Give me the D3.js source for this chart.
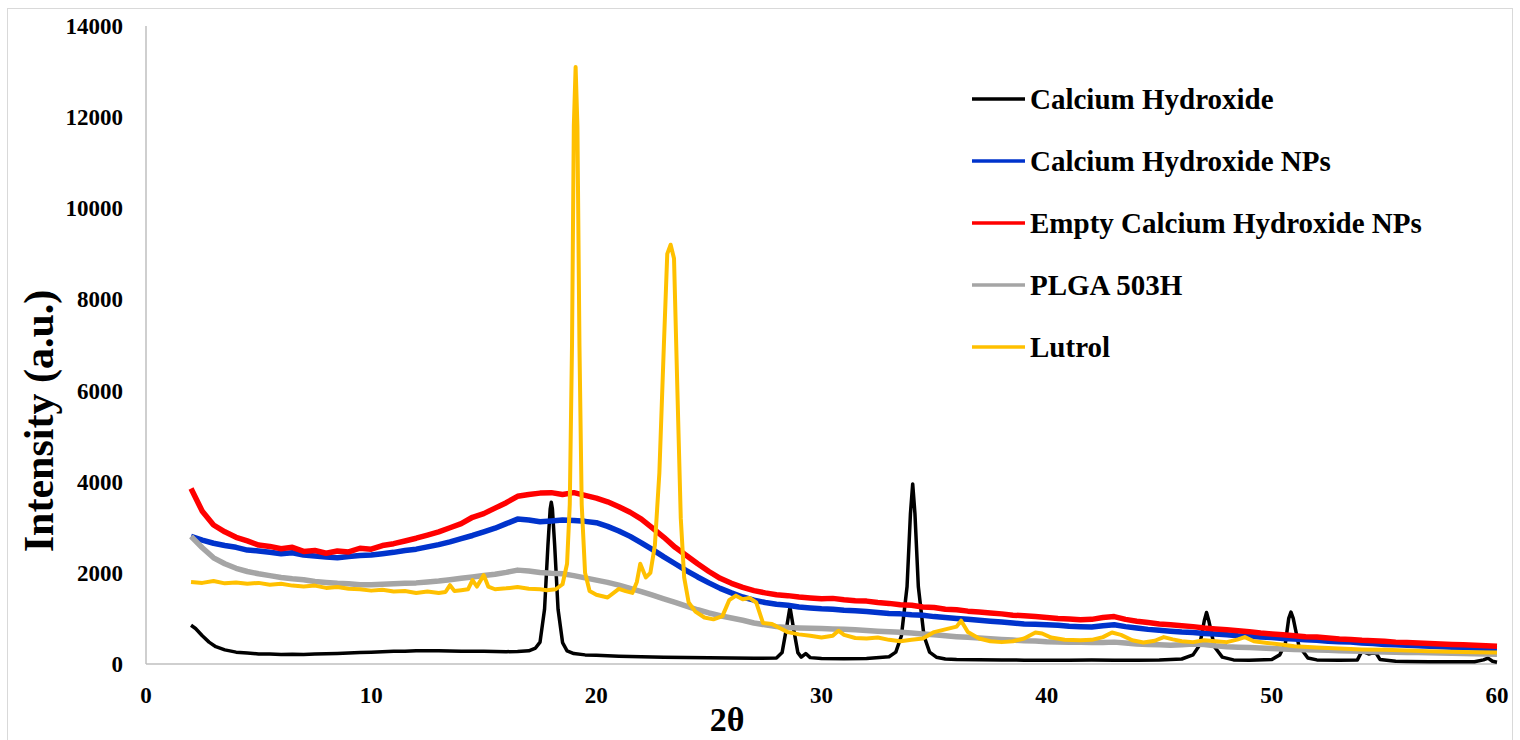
<!DOCTYPE html>
<html>
<head>
<meta charset="utf-8">
<script src="https://cdn.jsdelivr.net/npm/d3@7"></script>
<style>
  body { margin: 0; background: #fff; }
  svg { display: block; font-family: "Liberation Serif", "Times New Roman", serif; font-weight: bold; }
</style>
</head>
<body>
<svg id="chart"></svg>
<script>
const width = 1520;
const height = 740;

// 2-theta grid used by the broad (amorphous) patterns
const angles = [2, 2.5, 3, 3.5, 4, 4.5, 5, 5.5, 6, 6.5, 7, 7.5, 8, 8.5, 9, 9.5, 10, 10.5, 11, 11.5,
  12, 12.5, 13, 13.5, 14, 14.5, 15, 15.5, 16, 16.5, 17, 17.5, 18, 18.5, 19, 19.5, 20, 20.5, 21, 21.5,
  22, 22.5, 23, 23.5, 24, 24.5, 25, 25.5, 26, 26.5, 27, 27.5, 28, 28.5, 29, 29.5, 30, 30.5, 31, 31.5,
  32, 32.5, 33, 33.5, 34, 34.5, 35, 35.5, 36, 36.5, 37, 37.5, 38, 38.5, 39, 39.5, 40, 40.5, 41, 41.5,
  42, 42.5, 43, 43.5, 44, 44.5, 45, 45.5, 46, 46.5, 47, 47.5, 48, 48.5, 49, 49.5, 50, 50.5, 51, 51.5,
  52, 52.5, 53, 53.5, 54, 54.5, 55, 55.5, 56, 56.5, 57, 57.5, 58, 58.5, 59, 59.5, 60];

const nps = [2800, 2720, 2650, 2600, 2560, 2500, 2480, 2450, 2420, 2440, 2390, 2370, 2350, 2330, 2360, 2380, 2390, 2420, 2450, 2490,
  2520, 2570, 2620, 2680, 2750, 2820, 2900, 2980, 3080, 3180, 3160, 3120, 3140, 3160, 3150, 3130, 3100, 3020, 2920, 2800,
  2660, 2510, 2350, 2200, 2050, 1910, 1780, 1660, 1560, 1470, 1400, 1350, 1310, 1290, 1250, 1230, 1210, 1200, 1180, 1170,
  1150, 1130, 1110, 1100, 1080, 1070, 1040, 1020, 1000, 980, 960, 940, 920, 900, 880, 870, 860, 850, 830, 820,
  810, 840, 860, 820, 790, 760, 740, 720, 700, 690, 670, 660, 640, 620, 610, 590, 580, 560, 550, 530,
  520, 500, 490, 480, 460, 450, 430, 420, 410, 400, 390, 380, 370, 360, 350, 345, 340];

const emptyNps = [3850, 3350, 3050, 2900, 2780, 2700, 2610, 2580, 2530, 2560, 2470, 2490, 2430, 2480, 2460, 2540, 2520, 2600, 2640, 2700,
  2760, 2830, 2900, 2990, 3080, 3220, 3300, 3420, 3540, 3680, 3720, 3750, 3760, 3720, 3760, 3700, 3640, 3560, 3450, 3330,
  3180, 2980, 2780, 2560, 2380, 2200, 2030, 1880, 1770, 1680, 1610, 1560, 1520, 1500, 1470, 1450, 1430, 1440, 1410, 1390,
  1380, 1350, 1330, 1300, 1290, 1250, 1240, 1200, 1190, 1160, 1140, 1120, 1100, 1070, 1060, 1040, 1020, 1000, 990, 970,
  980, 1020, 1040, 980, 940, 910, 880, 860, 840, 820, 790, 770, 750, 730, 710, 680, 660, 640, 620, 600,
  590, 570, 550, 540, 520, 510, 500, 480, 470, 460, 450, 440, 430, 420, 410, 400, 390];

const plga = [2800, 2550, 2330, 2200, 2100, 2030, 1980, 1940, 1900, 1870, 1850, 1810, 1790, 1770, 1760, 1740, 1740, 1750, 1760, 1770,
  1780, 1800, 1820, 1850, 1880, 1910, 1940, 1970, 2010, 2060, 2040, 2010, 1990, 1980, 1940, 1890, 1840, 1790, 1730, 1660,
  1590, 1510, 1430, 1350, 1270, 1190, 1120, 1060, 1010, 960, 900, 860, 820, 800, 790, 785, 780, 770, 760, 750,
  735, 720, 710, 695, 680, 660, 640, 620, 600, 585, 570, 555, 540, 525, 510, 505, 490, 485, 480, 475,
  470, 470, 480, 460, 440, 430, 420, 410, 420, 440, 430, 400, 380, 370, 360, 350, 340, 330, 320, 310,
  305, 300, 290, 285, 280, 270, 265, 260, 255, 250, 245, 240, 235, 230, 225, 220, 215];

// crystalline patterns, sampled more densely around the peaks: [2theta, intensity]
const caOH2 = [[2, 850], [2.2, 780], [2.5, 620], [2.8, 480], [3.1, 380], [3.5, 310], [4, 260], [4.5, 240], [5, 220], [5.5, 220],
  [6, 210], [6.5, 215], [7, 210], [7.5, 220], [8, 225], [8.5, 230], [9, 240], [9.5, 250], [10, 260], [10.5, 270],
  [11, 280], [11.5, 280], [12, 290], [12.5, 290], [13, 290], [13.5, 285], [14, 280], [14.5, 280], [15, 280], [15.5, 275],
  [16, 270], [16.5, 275], [17, 290], [17.3, 350], [17.5, 480], [17.7, 1200], [17.85, 2600], [17.95, 3400], [18.0, 3550],
  [18.05, 3400], [18.15, 2600], [18.3, 1200], [18.5, 470], [18.7, 290], [19, 230], [19.5, 200], [20, 190], [21, 170],
  [22, 160], [23, 150], [24, 140], [25, 135], [26, 130], [27, 125], [28, 130], [28.25, 250], [28.45, 800], [28.6, 1250],
  [28.75, 800], [28.95, 250], [29.1, 150], [29.3, 230], [29.5, 140], [30, 120], [31, 115], [32, 120], [33, 160], [33.3, 260],
  [33.55, 620], [33.8, 1700], [33.95, 3300], [34.05, 3950], [34.15, 3300], [34.3, 1700], [34.55, 620], [34.8, 260], [35.1, 150],
  [35.5, 110], [36, 100], [37, 95], [38, 90], [39, 85], [40, 80], [41, 85], [42, 90], [43, 85], [44, 85], [45, 90], [46, 110],
  [46.5, 200], [46.8, 420], [47.0, 950], [47.1, 1130], [47.2, 950], [47.45, 380], [47.8, 150], [48.3, 90], [49, 85], [50, 100],
  [50.35, 200], [50.6, 450], [50.75, 1000], [50.85, 1140], [50.95, 1000], [51.2, 400], [51.6, 130], [52, 90], [53, 80],
  [53.8, 90], [54, 280], [54.3, 220], [54.6, 260], [54.8, 100], [55.5, 60], [56, 55], [57, 50], [58, 50], [59, 50],
  [59.4, 90], [59.6, 130], [59.8, 60], [60, 40]];

const lutrol = [[2, 1800], [2.5, 1780], [3, 1820], [3.5, 1770], [4, 1790], [4.5, 1760], [5, 1780], [5.5, 1740], [6, 1760],
  [6.5, 1720], [7, 1700], [7.5, 1720], [8, 1670], [8.5, 1690], [9, 1650], [9.5, 1640], [10, 1610], [10.5, 1630], [11, 1590],
  [11.5, 1600], [12, 1560], [12.5, 1590], [13, 1560], [13.3, 1580], [13.5, 1730], [13.7, 1600], [14, 1620], [14.3, 1640],
  [14.5, 1840], [14.7, 1700], [15, 1950], [15.2, 1700], [15.5, 1640], [16, 1660], [16.5, 1690], [17, 1650], [17.5, 1640],
  [17.8, 1620], [18.2, 1640], [18.5, 1750], [18.7, 2200], [18.82, 3500], [18.92, 7000], [19.0, 11800], [19.08, 13100],
  [19.16, 11800], [19.25, 7000], [19.35, 3500], [19.5, 2000], [19.7, 1600], [20, 1520], [20.5, 1460], [21, 1650], [21.3, 1600],
  [21.6, 1560], [21.8, 1800], [21.95, 2200], [22.2, 1900], [22.4, 2000], [22.6, 2600], [22.8, 4200], [23.0, 7000],
  [23.15, 9000], [23.3, 9200], [23.45, 8900], [23.6, 6000], [23.75, 3200], [23.9, 1900], [24.1, 1350], [24.4, 1150],
  [24.8, 1020], [25.2, 980], [25.6, 1050], [25.9, 1400], [26.2, 1500], [26.5, 1420], [26.8, 1450], [27.1, 1350], [27.4, 900],
  [27.8, 880], [28.1, 800], [28.5, 700], [29, 650], [29.5, 620], [30, 580], [30.5, 620], [30.75, 730], [31, 640], [31.5, 570],
  [32, 560], [32.5, 580], [33, 530], [33.5, 500], [34, 530], [34.5, 560], [35, 700], [35.5, 760], [36, 820], [36.2, 950],
  [36.5, 700], [37, 560], [37.5, 500], [38, 480], [38.5, 500], [39, 560], [39.5, 690], [39.8, 670], [40.2, 580], [40.8, 530],
  [41.5, 520], [42, 530], [42.5, 590], [42.9, 690], [43.3, 640], [43.8, 520], [44.3, 470], [44.8, 510], [45.2, 590],
  [45.6, 540], [46, 500], [46.5, 480], [47, 520], [47.5, 500], [48, 480], [48.5, 540], [48.8, 590], [49.2, 500], [49.8, 460],
  [50.5, 420], [51, 390], [52, 360], [53, 340], [54, 320], [55, 310], [56, 295], [57, 280], [58, 270], [59, 260], [60, 250]];

const seriesNames = ["Calcium Hydroxide", "Calcium Hydroxide NPs", "Empty Calcium Hydroxide NPs", "PLGA 503H", "Lutrol"];
const seriesColors = ["#000000", "#0033cc", "#ff0000", "#a5a5a5", "#ffc000"];
const xTicks = [0, 10, 20, 30, 40, 50, 60];
const yTicks = [0, 2000, 4000, 6000, 8000, 10000, 12000, 14000];

const series = [
  caOH2,
  angles.map((a, i) => [a, nps[i]]),
  angles.map((a, i) => [a, emptyNps[i]]),
  angles.map((a, i) => [a, plga[i]]),
  lutrol
];
const widths = [3.5, 5.5, 5.5, 5.5, 4];

const svg = d3.select("#chart")
  .attr("width", width)
  .attr("height", height);

// outer chart border
svg.append("rect")
  .attr("x", 7.5).attr("y", 8.5)
  .attr("width", 1505).attr("height", 740)
  .attr("fill", "none")
  .attr("stroke", "#d9d9d9");

const x = d3.scaleLinear().domain([0, 60]).range([146, 1497]);
const y = d3.scaleLinear().domain([0, 14000]).range([664, 26]);

// axes
svg.append("line")
  .attr("x1", x(0)).attr("x2", x(0))
  .attr("y1", y(14000)).attr("y2", y(0))
  .attr("stroke", "#bfbfbf").attr("stroke-width", 1.5);
svg.append("line")
  .attr("x1", x(0)).attr("x2", x(60))
  .attr("y1", y(0)).attr("y2", y(0))
  .attr("stroke", "#bfbfbf").attr("stroke-width", 1.5);

svg.append("g")
  .selectAll("text")
  .data(yTicks)
  .join("text")
  .attr("x", 123)
  .attr("y", d => y(d))
  .attr("dy", "0.35em")
  .attr("text-anchor", "end")
  .attr("font-size", 23)
  .text(d => d);

svg.append("g")
  .selectAll("text")
  .data(xTicks)
  .join("text")
  .attr("x", d => x(d))
  .attr("y", 703)
  .attr("text-anchor", "middle")
  .attr("font-size", 23)
  .text(d => d);

svg.append("text")
  .attr("transform", "translate(53,421) rotate(-90)")
  .attr("text-anchor", "middle")
  .attr("font-size", 42)
  .text("Intensity (a.u.)");

svg.append("text")
  .attr("x", 727)
  .attr("y", 731)
  .attr("text-anchor", "middle")
  .attr("font-size", 34)
  .text("2θ");

const line = d3.line()
  .x(d => x(d[0]))
  .y(d => y(d[1]));

svg.append("g")
  .selectAll("path")
  .data(series)
  .join("path")
  .attr("fill", "none")
  .attr("stroke", (d, i) => seriesColors[i])
  .attr("stroke-width", (d, i) => widths[i])
  .attr("stroke-linejoin", "round")
  .attr("d", line);

// legend
const legend = svg.append("g")
  .selectAll("g")
  .data(seriesNames)
  .join("g")
  .attr("transform", (d, i) => `translate(972,${99 + i * 62})`);

legend.append("line")
  .attr("x1", 0).attr("x2", 53)
  .attr("stroke", (d, i) => seriesColors[i])
  .attr("stroke-width", 3.5);

legend.append("text")
  .attr("x", 58)
  .attr("dy", "0.35em")
  .attr("font-size", 29)
  .text(d => d);
</script>
</body>
</html>
